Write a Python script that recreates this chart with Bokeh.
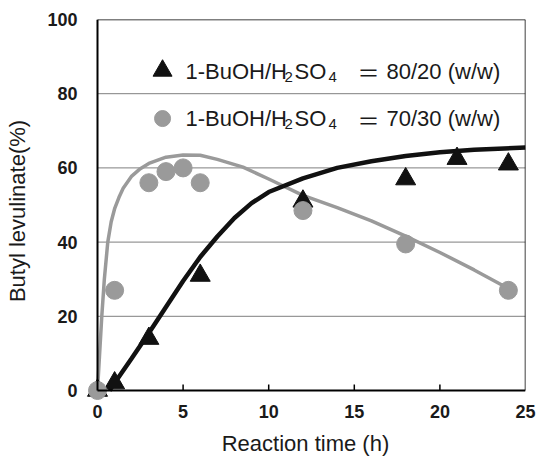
import math
from bokeh.plotting import figure
from bokeh.models import Label, FixedTicker, Range1d, LinearAxis
from bokeh.embed import file_html
from bokeh.resources import INLINE

# ---- data ----
time_8020 = [0, 1, 3, 6, 12, 18, 21, 24]
yield_8020 = [0, 2, 14, 31, 51, 57, 62.5, 61]
time_7030 = [0, 1, 3, 4, 5, 6, 12, 18, 24]
yield_7030 = [0, 27, 56, 59, 60, 56, 48.5, 39.5, 27]

# fitted curves
fit_t_8020 = [0.7, 1, 2, 3, 4, 5, 6, 7, 8, 9, 10, 12, 14, 16, 18, 20, 22, 25]
fit_y_8020 = [0, 2, 8.7, 15.5, 22.5, 29.5, 36, 41.5, 46.5, 50.5, 53.5, 57.2, 60, 61.8, 63.2, 64.2, 64.9, 65.5]
fit_t_7030 = [0, 0.1, 0.25, 0.4, 0.6, 0.8, 1, 1.25, 1.5, 2, 2.5, 3, 4, 5, 6, 7, 8.5, 10, 12, 14, 16, 18, 20, 22, 24]
fit_y_7030 = [0, 8, 20, 30, 40, 45.5, 49, 52, 54.5, 57.8, 59.8, 61.2, 62.9, 63.5, 63.4, 62.3, 60.2, 57, 52.6, 49.3, 45.7, 41.6, 37.2, 32.5, 27.5]

x_ticks = [0, 5, 10, 15, 20, 25]
y_ticks = [0, 20, 40, 60, 80, 100]

label_8020 = ["1-BuOH/H", "2", "SO", "4", "\uff1d", "80/20 (w/w)"]
label_7030 = ["1-BuOH/H", "2", "SO", "4", "\uff1d", "70/30 (w/w)"]

BLACK = "#111111"
GRAY = "#9a9a9a"
TEXT = "#1a1a1a"
FONT = "Liberation Sans"

# ---- layout (pixels) ----
W, H = 537, 459
BOX_L, BOX_R, BOX_T, BOX_B = 97, 525, 19, 390   # plotted box
PAD = 12                                         # room for markers at the origin
XMIN, XMAX, YMIN, YMAX = 0, 25, 0, 100
x_lo = XMIN - PAD * (XMAX - XMIN) / (BOX_R - BOX_L)
y_lo = YMIN - PAD * (YMAX - YMIN) / (BOX_B - BOX_T)

p = figure(width=W, height=H, output_backend="svg", toolbar_location=None,
           x_range=Range1d(x_lo, XMAX), y_range=Range1d(y_lo, YMAX),
           min_border_left=BOX_L - PAD, min_border_right=W - BOX_R,
           min_border_top=BOX_T, min_border_bottom=H - (BOX_B + PAD))

p.background_fill_color = "white"
p.border_fill_color = "white"
p.outline_line_color = None
p.xgrid.visible = False
p.ygrid.visible = False

# panel axes: only tick labels and titles (lines drawn by the box axes below)
p.xaxis.ticker = FixedTicker(ticks=x_ticks)
p.yaxis.ticker = FixedTicker(ticks=y_ticks)
for ax in (p.xaxis, p.yaxis):
    ax.axis_line_color = None
    ax.major_tick_line_color = None
    ax.minor_tick_line_color = None
    ax.major_tick_in = 0
    ax.major_tick_out = 0
    ax.major_label_text_font = FONT
    ax.major_label_text_font_style = "bold"
    ax.major_label_text_font_size = "18px"
    ax.major_label_text_color = TEXT
    ax.axis_label_text_font = FONT
    ax.axis_label_text_font_style = "normal"
    ax.axis_label_text_font_size = "22px"
    ax.axis_label_text_color = TEXT

p.xaxis.major_label_standoff = 14 - PAD
p.xaxis.axis_label_standoff = 10
p.xaxis.axis_label = "Reaction time (h)"

p.yaxis.major_label_standoff = 20 - PAD
p.yaxis.axis_label_standoff = 14
p.yaxis.axis_label = "Butyl levulinate(%)"

# the box: axes fixed at the data limits, without ticks or labels
box_specs = (
    ("below", YMIN, (XMIN, XMAX), 2.0),
    ("left", XMIN, (YMIN, YMAX), 2.0),
    ("above", YMAX, (XMIN, XMAX), 1.5),
    ("right", XMAX, (YMIN, YMAX), 1.5),
)
for side, loc, bnds, lw in box_specs:
    bx = LinearAxis(fixed_location=loc, bounds=bnds, ticker=FixedTicker(ticks=[]),
                    axis_line_color="black", axis_line_width=lw,
                    major_tick_line_color=None, minor_tick_line_color=None,
                    major_tick_in=0, major_tick_out=0)
    p.add_layout(bx, side)

# inward tick marks on the x axis (6 px long)
p.ray(x=x_ticks[1:-1], y=[YMIN] * (len(x_ticks) - 2), length=6, length_units="screen",
      angle=math.pi / 2, line_color="black", line_width=1.5)

# horizontal grid lines inside the box
grid_y = y_ticks[1:-1]
p.segment(x0=[XMIN] * len(grid_y), x1=[XMAX] * len(grid_y), y0=grid_y, y1=grid_y,
          line_color="#7f7f7f", line_width=1)

# fitted curves
p.line(fit_t_7030, fit_y_7030, line_color=GRAY, line_width=3.5)
p.line(fit_t_8020, fit_y_8020, line_color=BLACK, line_width=4.5)

# data points
p.scatter(time_8020, yield_8020, marker="triangle", size=20, fill_color=BLACK, line_color=BLACK)
p.scatter(time_7030, yield_7030, marker="circle", size=18, fill_color=GRAY, line_color=GRAY)

# legend keys (layout positions in data space)
KEY_X = 3.8
ROW1_Y, ROW2_Y = 86.2, 73.3
p.scatter([KEY_X], [ROW1_Y], marker="triangle", size=19, fill_color=BLACK, line_color=BLACK)
p.scatter([KEY_X], [ROW2_Y], marker="circle", size=16, fill_color=GRAY, line_color=GRAY)

# legend texts with subscripts
offsets = [88, 187, 197, 231, 260, 289]
sizes = ["22px", "15px", "22px", "15px", "22px", "22px"]
sub = [False, True, False, True, False, False]
fonts = [FONT, FONT, FONT, FONT, "Noto Sans CJK JP", FONT]
for base_y, parts in ((86.0, label_8020), (73.3, label_7030)):
    for txt, off, sz, s, f in zip(parts, offsets, sizes, sub, fonts):
        p.add_layout(Label(x=XMIN, y=base_y - (1.6 if s else 0), x_offset=off,
                           text=txt, text_font=f, text_font_size=sz,
                           text_color=TEXT, text_baseline="alphabetic", text_align="left"))

open("out.html", "w").write(file_html(p, INLINE))
